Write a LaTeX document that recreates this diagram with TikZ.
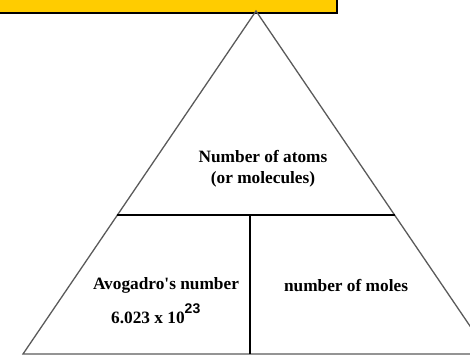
\documentclass[tikz,border=0pt]{standalone}
\usepackage{fontspec}
\setmainfont{Liberation Serif}[Ligatures=TeXOff]
\newfontfamily\supfont{Liberation Sans}
\definecolor{baryellow}{HTML}{FFCC00}
\definecolor{edgegray}{HTML}{5A5A5A}
\tikzset{
  lbl/.style={font=\bfseries\fontsize{17.3}{19}\selectfont, inner sep=0pt, align=center},
  edge/.style={draw=edgegray, line width=1.3pt},
  divider/.style={draw=black, line width=1.3pt}
}
\begin{document}
\begin{tikzpicture}[x=1pt,y=-1pt]
\useasboundingbox (0,0) rectangle (470,357);
\clip (0,0) rectangle (470,357);
% yellow title bar
\fill[baryellow] (-5,-5) rectangle (337,12.5);
\draw[black, line width=2pt] (-5,13) -- (337,13) -- (337,-5);
% triangle
\coordinate (apex) at (256,11);
\coordinate (bl) at (23,354);
\coordinate (br) at (489,354);
\coordinate (hl) at (116.6,215);
\coordinate (hr) at (395.4,215);
\coordinate (vt) at (250,215);
\coordinate (vb) at (250,354);
\draw[edge] (apex) -- (bl) -- (br) -- cycle;
\draw[divider] (hl) -- (hr);
\draw[divider] (vt) -- (vb);
% labels
\node[lbl] (atoms) at (263,169) {Number of atoms\\[2pt](or molecules)};
\node[lbl] (avo) at (166,285) {Avogadro's number};
\node[lbl, anchor=base west] (num) at (111,323) {6.023 x 10\raisebox{10pt}{\supfont\fontsize{14}{14}\selectfont 23}};
\node[lbl] (moles) at (346,286) {number of moles};
\end{tikzpicture}
\end{document}
